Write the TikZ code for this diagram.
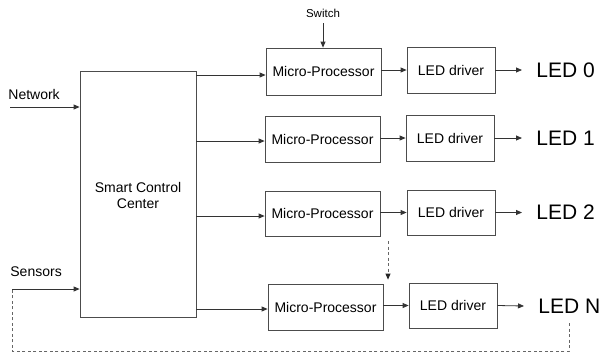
\documentclass[tikz,border=0pt]{standalone}
\usepackage{fontspec}
\setmainfont{Liberation Sans}
\usetikzlibrary{arrows.meta}
\begin{document}
\begin{tikzpicture}[x=1pt,y=-1pt,
  line width=0.8pt,
  box/.style={draw=black!70, line width=0.8pt, inner sep=0pt, font=\fontsize{14}{16}\selectfont},
  mpbox/.style={box, minimum width=115pt, minimum height=46pt},
  drvbox/.style={box, minimum width=88pt, minimum height=45pt},
  ledlabel/.style={anchor=west, inner sep=0pt, inner xsep=14pt, font=\fontsize{21}{24}\selectfont},
  arr/.style={draw=black!80, -{Triangle[length=6pt,width=5pt]}},
  dashline/.style={draw=black!60, dash pattern=on 3pt off 2.5pt},
  inlabel/.style={inner sep=0pt, font=\fontsize{14}{16}\selectfont}
]
\useasboundingbox (0,0) rectangle (602,354);

% central controller
\node[box, minimum width=116pt, minimum height=246pt] (scc) at (138,194) {};
\node[inlabel, align=center] (scctext) at (138,195) {Smart Control\\Center};

% processor / driver chains
\node[mpbox, minimum height=47pt] (mp0) at (323.5,71.5) {Micro-Processor};
\node[mpbox] (mp1) at (322.5,139) {Micro-Processor};
\node[mpbox, minimum height=45pt] (mp2) at (322.5,213.5) {Micro-Processor};
\node[mpbox] (mpn) at (325.5,307) {Micro-Processor};

\node[drvbox, minimum height=46pt] (d0) at (451,70) {LED driver};
\node[drvbox, minimum height=46pt] (d1) at (450,138) {LED driver};
\node[drvbox] (d2) at (451,212.5) {LED driver};
\node[drvbox] (dn) at (453,305.5) {LED driver};

\node[ledlabel] (l0) at (522,70) {LED 0};
\node[ledlabel] (l1) at (522,138) {LED 1};
\node[ledlabel] (l2) at (522,212.5) {LED 2};
\node[ledlabel] (ln) at (524,306) {LED N};

% inputs
\node[inlabel, anchor=west] (net) at (8,94) {Network};
\node[inlabel, anchor=west] (sens) at (10,272) {Sensors};
\node[inner sep=0pt, font=\fontsize{11.5}{13}\selectfont] (sw) at (323,13) {Switch};
\coordinate (netin) at (10,107);
\coordinate (sensin) at (12,289);
\coordinate (more) at (388,241);

\draw[arr] (netin) -- (scc.west |- netin);
\draw[arr] (sensin) -- (scc.west |- sensin);
\draw[arr] (sw.south |- 0,23) -- (sw.south |- mp0.north);

% controller to processors
\draw[arr] (scc.east |- 0,75) -- (mp0.west |- 0,75);
\draw[arr] (scc.east |- 0,141) -- (mp1.west |- 0,141);
\draw[arr] (scc.east |- 0,216) -- (mp2.west |- 0,216);
\draw[arr] (scc.east |- 0,309) -- (mpn.west |- 0,309);

% processors to drivers
\draw[arr] (mp0.east |- d0) -- (d0.west);
\draw[arr] (mp1.east |- d1) -- (d1.west);
\draw[arr] (mp2.east |- d2) -- (d2.west);
\draw[arr] (mpn.east |- dn) -- (dn.west);

% drivers to LEDs
\draw[arr] (d0.east) -- (l0.west);
\draw[arr] (d1.east) -- (l1.west);
\draw[arr] (d2.east) -- (l2.west);
\draw[arr] (dn.east) -- (ln.west);

% further chains (dashed)
\draw[dashline, -{Triangle[length=6pt,width=5pt,color=black!85]}, shorten >=4pt] (more) -- (more |- mpn.north);
% feedback from LED N to sensors
\draw[dashline] (ln.south |- 0,323) -- (ln.south |- 0,351) -- (sensin |- 0,351) -- (sensin);
\end{tikzpicture}
\end{document}
